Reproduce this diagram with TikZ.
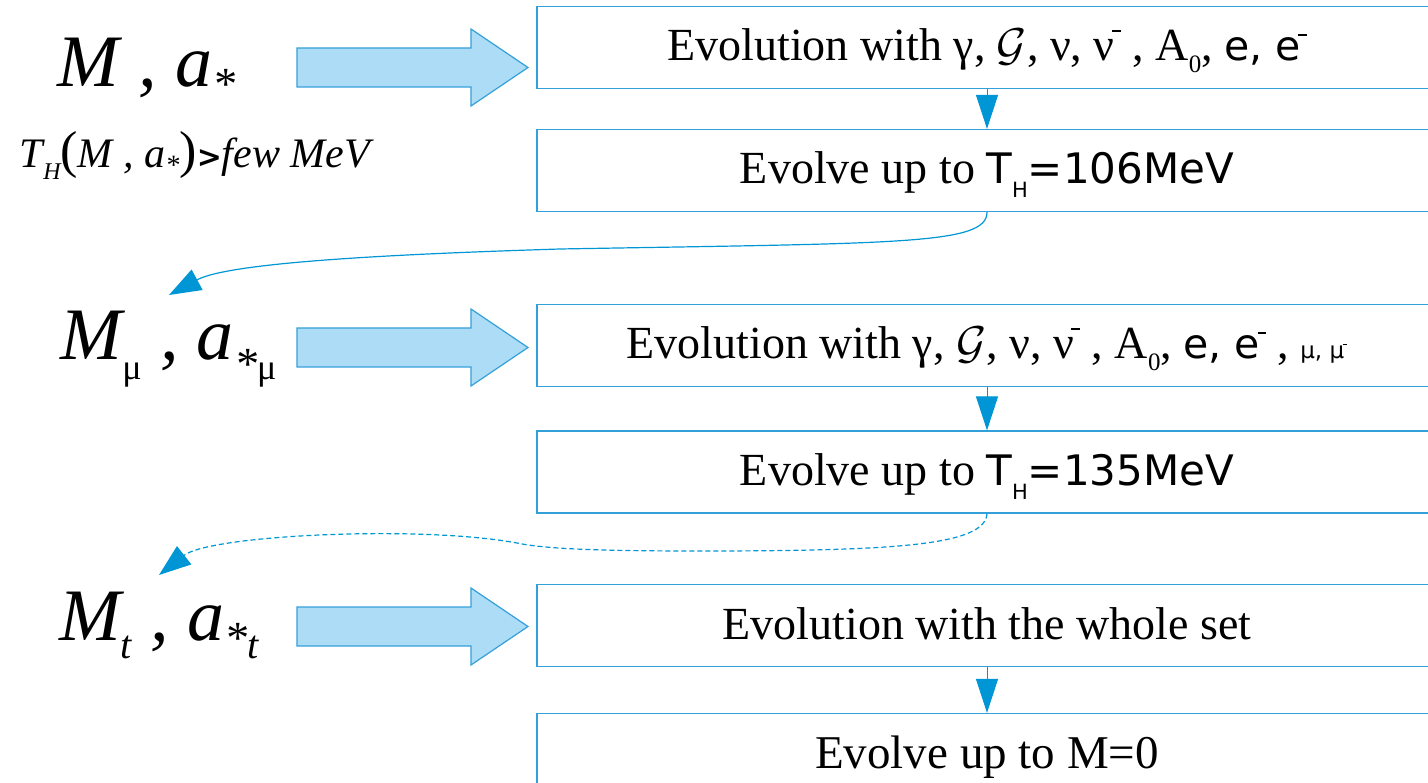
\RequirePackage{fix-cm}
\documentclass[tikz,border=0pt]{standalone}
\usepackage{fontspec}
\setmainfont{Liberation Serif}
\newfontfamily\sansf{DejaVu Sans}
\usetikzlibrary{arrows.meta}
\definecolor{boxblue}{RGB}{52,160,218}
\definecolor{tipblue}{RGB}{0,150,214}
\definecolor{arrfill}{RGB}{173,220,246}
\newcommand{\fs}[1]{\fontsize{#1}{#1}\selectfont}
\newcommand{\lsub}[3]{\raisebox{-#1}{\fs{#2}#3}}
\newcommand{\barsym}[1]{#1\kern-0.06em\rule[0.62em]{0.2em}{0.045em}}
\tikzset{
  box/.style={draw=boxblue, line width=1.2pt, minimum width=900pt, minimum height=82pt,
    inner sep=0pt, text height=27pt, text depth=0pt, font=\fs{46pt}},
  conn/.style={draw=tipblue, line width=1pt, -{Triangle[length=34pt,width=22pt]}},
  curveconn/.style={draw=tipblue, line width=1.2pt, -{Triangle[length=32pt,width=23pt]}},
  dashconn/.style={curveconn, dash pattern=on 5pt off 3pt},
  bigarr/.style={draw=boxblue, fill=arrfill, line width=1.2pt, line join=miter},
  lab/.style={anchor=base, inner sep=0pt},
  pics/bigarrow/.style={code={
    \draw[bigarr] (0,-19.5) -- (174,-19.5) -- (174,-38.5) -- (231,0) -- (174,38.5)
      -- (174,19.5) -- (0,19.5) -- cycle;}}
}
\begin{document}
\begin{tikzpicture}[x=1pt,y=-1pt]
\useasboundingbox (0,0) rectangle (1428,783);
\clip (0,0) rectangle (1428,783);

% boxes
\node[box] (b1) at (987,47.5) {Evolution with γ, $\mathcal{G}$, ν, \barsym{ν} , A\lsub{12pt}{25pt}{0}, {\sansf\fs{41pt}e, \barsym{e}}};
\node[box] (b2) at (987,170.5) {Evolve up to {\sansf\fs{42pt}T\lsub{14pt}{21pt}{H}=106MeV}};
\node[box] (b3) at (987,345.5) {Evolution with γ, $\mathcal{G}$, ν, \barsym{ν} , A\lsub{12pt}{25pt}{0}, {\sansf\fs{41pt}e, \barsym{e}} , {\sansf\fs{23pt}μ, \barsym{μ}}};
\node[box] (b4) at (987,472) {Evolve up to {\sansf\fs{42pt}T\lsub{14pt}{21pt}{H}=135MeV}};
\node[box] (b5) at (987,625.5) {Evolution with the whole set};
\node[box] (b6) at (987,754.5) {\fs{47pt}Evolve up to M=0};

% left labels
\node[lab] (lab1) at (146.5,87) {\fs{74pt}\itshape M , a\lsub{13pt}{46pt}{*}};
\node[lab] (cond) at (195,168) {\fs{42pt}\itshape T\lsub{12pt}{24pt}{H}{\fs{52pt}\upshape(}M , a\lsub{7pt}{28pt}{*}{\fs{52pt}\upshape)}{\sansf\bfseries\fs{30pt}>}few MeV};
\node[lab] (lab2) at (168.5,360) {\fs{74pt}\itshape M\lsub{20pt}{36pt}{\upshape μ} , a\lsub{20pt}{46pt}{*}\lsub{20pt}{36pt}{\upshape μ}};
\node[lab] (lab3) at (159,640) {\fs{74pt}\itshape M\lsub{18pt}{40pt}{t} , a\lsub{13pt}{46pt}{*}\lsub{18pt}{40pt}{t}};

% big arrows
\pic at (297,67.5) {bigarrow};
\pic at (297,347.5) {bigarrow};
\pic at (297,626.5) {bigarrow};

% vertical connectors
\draw[conn] (b1.south) -- (b2.north);
\draw[conn] (b3.south) -- (b4.north);
\draw[conn] (b5.south) -- (b6.north);

% curved connectors
\coordinate (tip2) at (169,295);
\coordinate (tip3) at (159,575);
\draw[curveconn] (b2.south) .. controls (987,245) and (900,243) .. (560,249)
  .. controls (400,254) and (230,262) .. (tip2);
\draw[dashconn] (b4.south) .. controls (985,545) and (900,551) .. (700,551)
  .. controls (600,551) and (545,549) .. (517,543)
  .. controls (420,525) and (210,535) .. (tip3);
\end{tikzpicture}
\end{document}
